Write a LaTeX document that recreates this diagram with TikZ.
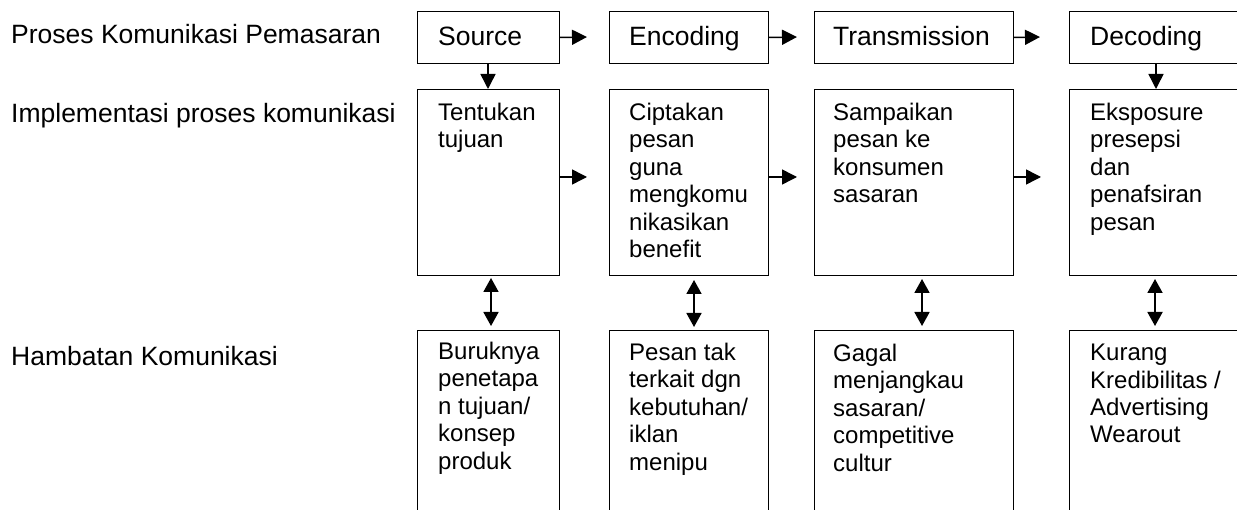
\documentclass[tikz,border=0pt]{standalone}
\usepackage{fontspec}
\setmainfont{Liberation Sans}
\usetikzlibrary{arrows.meta,calc}
\tikzset{
  box/.style={draw, line width=1pt, inner sep=0pt, anchor=north west},
  txt/.style={font=\fontsize{26.5}{27.4}\selectfont, align=left, inner sep=0pt, anchor=north west,
    execute at begin node={\rule{0pt}{20pt}}},
  btxt/.style={txt, font=\fontsize{24}{27.4}\selectfont},
  arr/.style={line width=1.5pt, -{Triangle[width=15pt,length=15pt]}},
  darr/.style={line width=1.8pt, {Triangle[width=15pt,length=14pt]}-{Triangle[width=15pt,length=14pt]}}
}
\begin{document}
\begin{tikzpicture}[x=1pt,y=-1pt]
\useasboundingbox (0,0) rectangle (1237,510);
\clip (0,0) rectangle (1237,510);
\fill[white] (0,0) rectangle (1237,510);

% row labels (first baseline = given y + 20)
\node[txt] (l1) at (11,23) {Proses Komunikasi Pemasaran};
\node[txt] (l2) at (11,102) {Implementasi proses komunikasi};
\node[txt] (l3) at (11,345) {Hambatan Komunikasi};

% top row
\node[box, minimum width=142pt, minimum height=52pt] (s) at (417,11) {};
\node[box, minimum width=159pt, minimum height=52pt] (e) at (609,11) {};
\node[box, minimum width=199pt, minimum height=52pt] (t) at (814,11) {};
\node[box, minimum width=210pt, minimum height=52pt] (d) at (1069,11) {};
% middle row
\node[box, minimum width=142pt, minimum height=186pt] (s2) at (417,89) {};
\node[box, minimum width=159pt, minimum height=186pt] (e2) at (609,89) {};
\node[box, minimum width=199pt, minimum height=186pt] (t2) at (814,89) {};
\node[box, minimum width=210pt, minimum height=186pt] (d2) at (1069,89) {};
% bottom row
\node[box, minimum width=142pt, minimum height=220pt] (s3) at (417,330) {};
\node[box, minimum width=159pt, minimum height=220pt] (e3) at (609,330) {};
\node[box, minimum width=199pt, minimum height=220pt] (t3) at (814,330) {};
\node[box, minimum width=210pt, minimum height=220pt] (d3) at (1069,330) {};

% texts (first baseline = box top + 34)
\node[txt] (ts) at ($(s.north west)+(21,14)$) {Source};
\node[txt] (te) at ($(e.north west)+(20,14)$) {Encoding};
\node[txt] (tt) at ($(t.north west)+(19,14)$) {Transmission};
\node[txt] (td) at ($(d.north west)+(21,14)$) {Decoding};

\node[btxt] (ts2) at ($(s2.north west)+(21,14)$) {Tentukan\\tujuan};
\node[btxt] (te2) at ($(e2.north west)+(20,14)$) {Ciptakan\\pesan\\guna\\mengkomu\\nikasikan\\benefit};
\node[btxt] (tt2) at ($(t2.north west)+(19,14)$) {Sampaikan\\pesan ke\\konsumen\\sasaran};
\node[btxt] (td2) at ($(d2.north west)+(21,14)$) {Eksposure\\presepsi\\dan\\penafsiran\\pesan};

\node[btxt] (ts3) at ($(s3.north west)+(21,12)$) {Buruknya\\penetapa\\n tujuan/\\konsep\\produk};
\node[btxt] (te3) at ($(e3.north west)+(20,13)$) {Pesan tak\\terkait dgn\\kebutuhan/\\iklan\\menipu};
\node[btxt] (tt3) at ($(t3.north west)+(19,14)$) {Gagal\\menjangkau\\sasaran/\\competitive\\cultur};
\node[btxt] (td3) at ($(d3.north west)+(21,14)$) {Kurang\\Kredibilitas /\\Advertising\\Wearout};

% free ends of horizontal arrows
\coordinate (h1) at (587,37);
\coordinate (h2) at (797,37);
\coordinate (h3) at (1040,37);
\coordinate (m1) at (587,177);
\coordinate (m2) at (797,177);
\coordinate (m3) at (1041,177);

\draw[arr] (s.east) -- (h1);
\draw[arr] (e.east) -- (h2);
\draw[arr] (t.east) -- (h3);
\draw[arr] (s2.east |- m1) -- (m1);
\draw[arr] (e2.east |- m2) -- (m2);
\draw[arr] (t2.east |- m3) -- (m3);

% vertical arrows
\coordinate (cs) at (488,0);
\coordinate (cd) at (1156,0);
\draw[arr] (s.south -| cs) -- (s2.north -| cs);
\draw[arr] (d.south -| cd) -- (d2.north -| cd);

% double arrows
\coordinate (v1) at (491,0);
\coordinate (v2) at (694,0);
\coordinate (v3) at (922,0);
\coordinate (v4) at (1155,0);
\draw[darr] ($(s2.south -| v1)+(0,2)$) -- ($(s3.north -| v1)+(0,-4)$);
\draw[darr] ($(e2.south -| v2)+(0,4)$) -- ($(e3.north -| v2)+(0,-3)$);
\draw[darr] ($(t2.south -| v3)+(0,3)$) -- ($(t3.north -| v3)+(0,-4)$);
\draw[darr] ($(d2.south -| v4)+(0,3)$) -- ($(d3.north -| v4)+(0,-4)$);
\end{tikzpicture}
\end{document}
